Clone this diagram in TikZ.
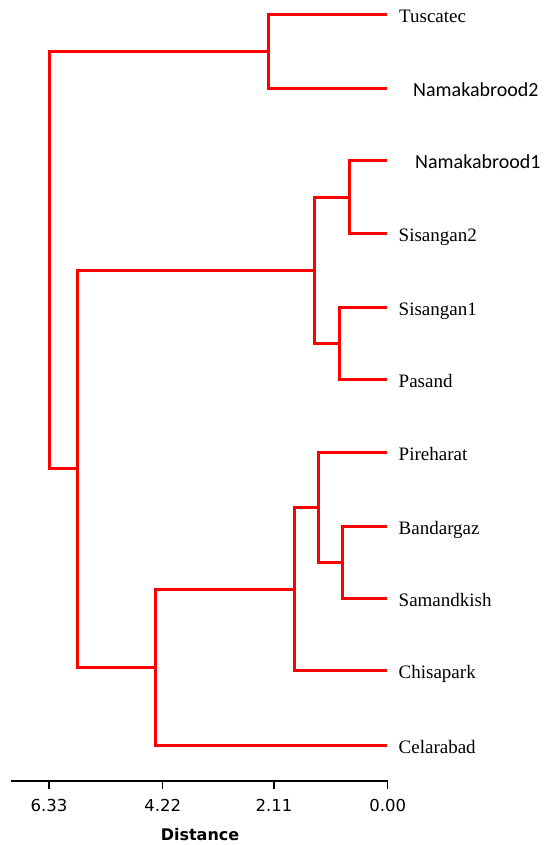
\documentclass[tikz,border=0pt]{standalone}
\usepackage{fontspec}
\setmainfont{Liberation Serif}
\newfontfamily\calfont{Carlito}
\newfontfamily\axfont{DejaVu Sans}
\begin{document}
\begin{tikzpicture}[x=1pt,y=-1pt,
  branch/.style={draw=red, line width=3pt},
  leaflab/.style={anchor=base west, inner sep=0pt, font=\fontsize{19}{19}\selectfont},
  callab/.style={anchor=base west, inner sep=0pt, font=\calfont\fontsize{20}{20}\selectfont},
  axisline/.style={draw=black, line width=2pt},
  tickline/.style={draw=black, line width=1.2pt},
  ticklab/.style={anchor=base, inner sep=0pt, font=\axfont\fontsize{16.5}{16.5}\selectfont},
  axtitle/.style={anchor=base, inner sep=0pt, font=\axfont\bfseries\fontsize{16}{16}\selectfont}]
\useasboundingbox (0,0) rectangle (545,845);
% leaves
\coordinate (l1) at (387,14.5);
\coordinate (l2) at (387,88.5);
\coordinate (l3) at (387,160.5);
\coordinate (l4) at (387,233.5);
\coordinate (l5) at (387,307.5);
\coordinate (l6) at (387,379.5);
\coordinate (l7) at (387,452.5);
\coordinate (l8) at (387,526.5);
\coordinate (l9) at (387,598.5);
\coordinate (l10) at (387,670.5);
\coordinate (l11) at (387,745.5);
% internal nodes
\coordinate (nA) at (268.5,51.5);
\coordinate (nB) at (349.5,197.5);
\coordinate (nC) at (339.5,343.5);
\coordinate (nD) at (314.5,270.5);
\coordinate (nE) at (342.5,562.5);
\coordinate (nF) at (318.5,507.5);
\coordinate (nG) at (294.5,589.5);
\coordinate (nH) at (155.5,667.5);
\coordinate (nI) at (77.5,468.5);
\coordinate (root) at (49.5,260);
% branches
\draw[branch] (root) |- (nA);
\draw[branch] (root) |- (nI);
\draw[branch] (nA) |- (l1);
\draw[branch] (nA) |- (l2);
\draw[branch] (nI) |- (nD);
\draw[branch] (nI) |- (nH);
\draw[branch] (nD) |- (nB);
\draw[branch] (nD) |- (nC);
\draw[branch] (nB) |- (l3);
\draw[branch] (nB) |- (l4);
\draw[branch] (nC) |- (l5);
\draw[branch] (nC) |- (l6);
\draw[branch] (nH) |- (nG);
\draw[branch] (nH) |- (l11);
\draw[branch] (nG) |- (nF);
\draw[branch] (nG) |- (l10);
\draw[branch] (nF) |- (l7);
\draw[branch] (nF) |- (nE);
\draw[branch] (nE) |- (l8);
\draw[branch] (nE) |- (l9);
% labels
\node[leaflab] (t1) at (399,22.7) {Tuscatec};
\node[callab] (t2) at (413,96.7) {Namakabrood2};
\node[callab] (t3) at (415,168.7) {Namakabrood1};
\node[leaflab] (t4) at (398.5,241.3) {Sisangan2};
\node[leaflab] (t5) at (398.5,315.7) {Sisangan1};
\node[leaflab] (t6) at (398.5,387.3) {Pasand};
\node[leaflab] (t7) at (398.5,460.3) {Pireharat};
\node[leaflab] (t8) at (398.5,534) {Bandargaz};
\node[leaflab] (t9) at (398.5,606.3) {Samandkish};
\node[leaflab] (t10) at (398.5,678.7) {Chisapark};
\node[leaflab] (t11) at (398.5,753) {Celarabad};
% axis
\coordinate (ax0) at (11,781);
\coordinate (ax1) at (388,781);
\coordinate (k1) at (49,781);
\coordinate (k2) at (162.7,781);
\coordinate (k3) at (274,781);
\coordinate (k4) at (387.7,781);
\draw[axisline] (ax0) -- (ax1);
\foreach \k in {k1,k2,k3,k4} {\draw[tickline] (\k) -- ++(0,7.5);}
\node[ticklab] (a1) at (49,811.7) {6.33};
\node[ticklab] (a2) at (162.7,811.7) {4.22};
\node[ticklab] (a3) at (274,811.7) {2.11};
\node[ticklab] (a4) at (387.7,811.7) {0.00};
\node[axtitle] (xt) at (200,840) {Distance};
\end{tikzpicture}
\end{document}
